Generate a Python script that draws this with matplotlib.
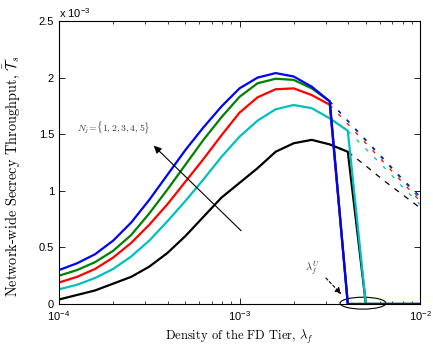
import numpy as np
import matplotlib
matplotlib.use('Agg')
import matplotlib.pyplot as plt
from matplotlib.patches import Ellipse

plt.rcParams['font.family'] = ['Liberation Sans', 'DejaVu Sans']
plt.rcParams['mathtext.fontset'] = 'cm'
plt.rcParams['axes.formatter.use_mathtext'] = True

# density of the FD tier, as powers of ten
lam_exp = [-4.0, -3.9, -3.8, -3.7, -3.6, -3.5, -3.4, -3.3, -3.2, -3.1, -3.0,
           -2.9, -2.8, -2.7, -2.6, -2.5, -2.4, -2.3, -2.2, -2.1, -2.0]
lam = [10 ** e for e in lam_exp]

# network-wide secrecy throughput (x 1e-3), with the upper density bound
ts_n1 = [0.04, 0.08, 0.12, 0.18, 0.24, 0.33, 0.45, 0.60, 0.77, 0.94, 1.07,
         1.20, 1.345, 1.42, 1.45, 1.41, 1.345, 0, 0, 0, 0]
ts_n2 = [0.13, 0.17, 0.23, 0.31, 0.42, 0.56, 0.73, 0.91, 1.10, 1.30, 1.478,
         1.62, 1.72, 1.758, 1.73, 1.64, 1.53, 0, 0, 0, 0]
ts_n3 = [0.19, 0.24, 0.31, 0.41, 0.54, 0.70, 0.88, 1.08, 1.28, 1.49, 1.69,
         1.826, 1.897, 1.905, 1.846, 1.76, 0, 0, 0, 0, 0]
ts_n4 = [0.25, 0.30, 0.37, 0.47, 0.61, 0.80, 1.01, 1.23, 1.45, 1.65, 1.83,
         1.95, 1.99, 1.98, 1.905, 1.79, 0, 0, 0, 0, 0]
ts_n5 = [0.30, 0.36, 0.44, 0.56, 0.72, 0.92, 1.14, 1.36, 1.56, 1.745, 1.905,
         2.00, 2.04, 2.01, 1.92, 1.79, 0, 0, 0, 0, 0]

# throughput without the bound (dashed), from where the solid curve drops
ts_n1_free = [1.345, 1.22, 1.09, 0.97, 0.85]
ts_n2_free = [1.53, 1.37, 1.21, 1.04, 0.88]
ts_n3_free = [1.76, 1.59, 1.42, 1.25, 1.08, 0.91]
ts_n4_free = [1.79, 1.615, 1.44, 1.27, 1.10, 0.93]
ts_n5_free = [1.79, 1.62, 1.45, 1.28, 1.11, 0.95]

series = [
    (ts_n1, ts_n1_free, 'k'),
    (ts_n2, ts_n2_free, 'c'),
    (ts_n3, ts_n3_free, 'r'),
    (ts_n4, ts_n4_free, 'g'),
    (ts_n5, ts_n5_free, 'b'),
]

fig = plt.figure(figsize=(4.33, 3.49), dpi=100)
ax = fig.add_axes([0.1363, 0.1289, 0.8337, 0.8109])

# dashed curves first, solid ones on top
for solid, free, col in series:
    start = len(lam) - len(free)
    if col == 'k':
        ax.plot(lam[start:], free, color=col, lw=0.9, dashes=(4.5, 5))
    else:
        ax.plot(lam[start:], free, color=col, lw=0.9, dashes=(3, 7))
for solid, free, col in series:
    ax.plot(lam, solid, color=col, lw=1.6)

ax.set_xscale('log')
ax.set_xlim(1e-4, 1e-2)
ax.set_ylim(0, 2.5)
ax.set_yticks([0, 0.5, 1, 1.5, 2, 2.5])
ax.set_yticklabels(['0', '0.5', '1', '1.5', '2', '2.5'])
ax.tick_params(which='both', direction='in', top=True, right=True, labelsize=8)
ax.tick_params(which='major', length=4, width=0.6)
ax.tick_params(which='minor', length=2, width=0.5)
for s in ax.spines.values():
    s.set_linewidth(0.8)

ax.text(0, 1.005, r'x $\mathdefault{10^{-3}}$', transform=ax.transAxes,
        ha='left', va='bottom', fontsize=8)

ax.set_xlabel(r'Density of the FD Tier, $\lambda_f$', family='cmr10',
              fontsize=9, labelpad=4)
ax.set_ylabel(r'Network-wide Secrecy Throughput, $\bar{\mathcal{T}}_s$',
              family='cmr10', fontsize=10.3)
ax.yaxis.set_label_coords(-0.103, 0.45)

# N_j annotation
ax.annotate('', xy=(0.257, 0.566), xytext=(0.510, 0.252),
            xycoords='axes fraction',
            arrowprops=dict(arrowstyle='-|>', color='k', lw=0.8,
                            mutation_scale=11))
ax.text(0.254, 0.622, r'$N_j\! =\! \{1,2,3,4,5\}$', transform=ax.transAxes,
        ha='right', va='center', fontsize=7, color='#333333')

# lambda_f^U annotation
ax.annotate('', xy=(0.787, 0.028), xytext=(0.734, 0.099),
            xycoords='axes fraction',
            arrowprops=dict(arrowstyle='-|>', color='k', lw=0.8,
                            linestyle=(0, (2.5, 2)), mutation_scale=9))
ax.text(0.703, 0.127, r'$\lambda_f^U$', transform=ax.transAxes,
        ha='center', va='center', fontsize=7.5, color='#333333')
ax.add_patch(Ellipse((0.842, 0.003), 0.127, 0.042, transform=ax.transAxes,
                     fill=False, lw=0.8, color='k', clip_on=False))

fig.savefig('out.png', dpi=100)
